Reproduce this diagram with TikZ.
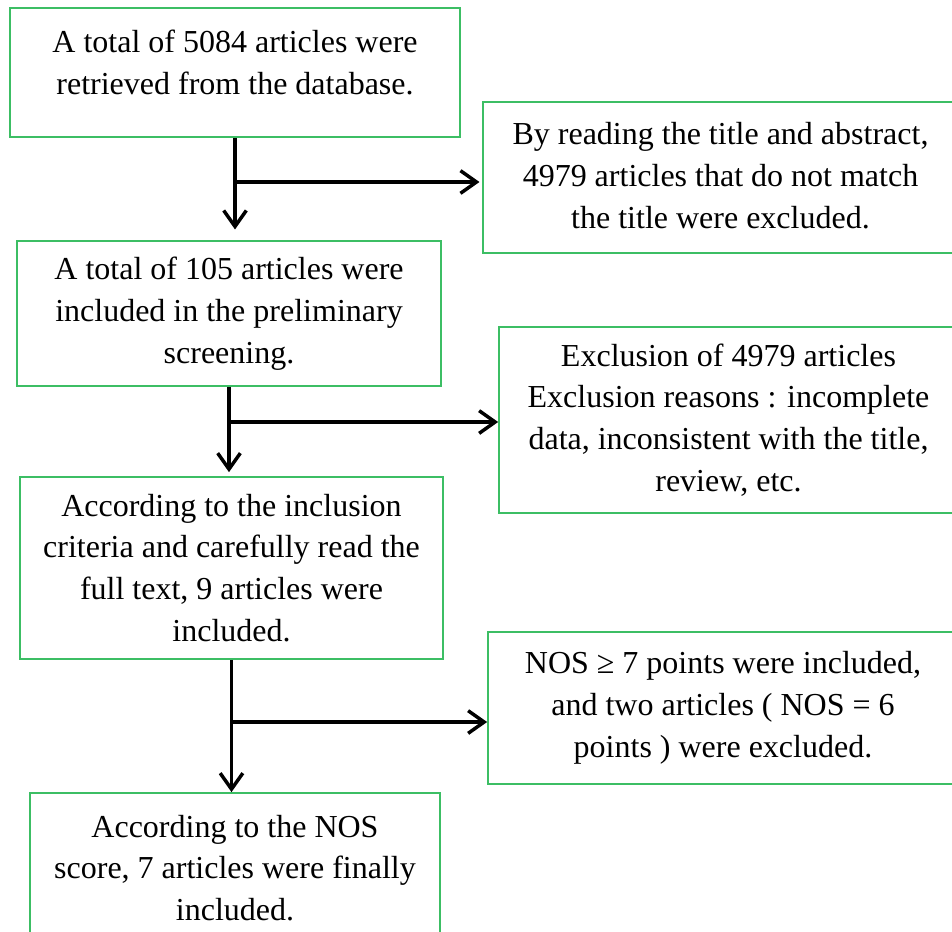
\documentclass[tikz,border=0pt]{standalone}
\usepackage{fontspec}
\setmainfont{Liberation Serif}
\usetikzlibrary{arrows.meta}
\definecolor{boxgreen}{RGB}{60,190,100}
\tikzset{
  stage/.style={draw=boxgreen, line width=1.3pt, align=center, inner sep=0pt,
    font=\fontsize{24}{31.4}\selectfont},
  flow/.style={line width=2.6pt, -{Straight Barb[length=12pt,width=17pt]}}
}
\begin{document}
\begin{tikzpicture}[x=0.75pt,y=-0.75pt]
  \useasboundingbox (0,0) rectangle (952,931);
  \fill[white] (0,0) rectangle (952,931);
  \clip (0,0) rectangle (952,931);
  \node[stage, minimum width=337.5pt, minimum height=96.75pt, text depth=15pt] (found) at (235,72.5) {A total of 5084 articles were\\retrieved from the database.};
  \node[stage, minimum width=356.25pt, minimum height=113.25pt, text depth=3pt] (drop1) at (720.5,177.5) {By reading the title and abstract,\\4979 articles that do not match\\the title were excluded.};
  \node[stage, minimum width=318pt, minimum height=108.75pt] (prelim) at (229,313.5) {A total of 105 articles were\\included in the preliminary\\screening.};
  \node[stage, minimum width=344.25pt, minimum height=139.5pt] (drop2) at (728.5,420) {Exclusion of 4979 articles\\Exclusion reasons : incomplete\\data, inconsistent with the title,\\review, etc.};
  \node[stage, minimum width=317.25pt, minimum height=136.5pt] (fulltext) at (231.5,568) {According to the inclusion\\criteria and carefully read the\\full text, 9 articles were\\included.};
  \node[stage, minimum width=352.5pt, minimum height=114pt] (drop3) at (723,708) {NOS ≥ 7 points were included,\\and two articles ( NOS = 6\\points ) were excluded.};
  \node[stage, minimum width=307.5pt, minimum height=112.5pt] (final) at (235,868) {According to the NOS\\score, 7 articles were finally\\included.};
  \coordinate (j1) at (235,182);
  \coordinate (j2) at (229,422);
  \coordinate (j3) at (231.5,722);
  \draw[flow, shorten >=8pt] (found.south) -- (found.south |- prelim.north);
  \draw[flow, shorten >=2pt] (j1) -- (j1 -| drop1.west);
  \draw[flow, shorten >=3pt] (prelim.south) -- (prelim.south |- fulltext.north);
  \draw[flow] (j2) -- (j2 -| drop2.west);
  \draw[flow] (fulltext.south) -- (fulltext.south |- final.north);
  \draw[flow] (j3) -- (j3 -| drop3.west);
\end{tikzpicture}
\end{document}
